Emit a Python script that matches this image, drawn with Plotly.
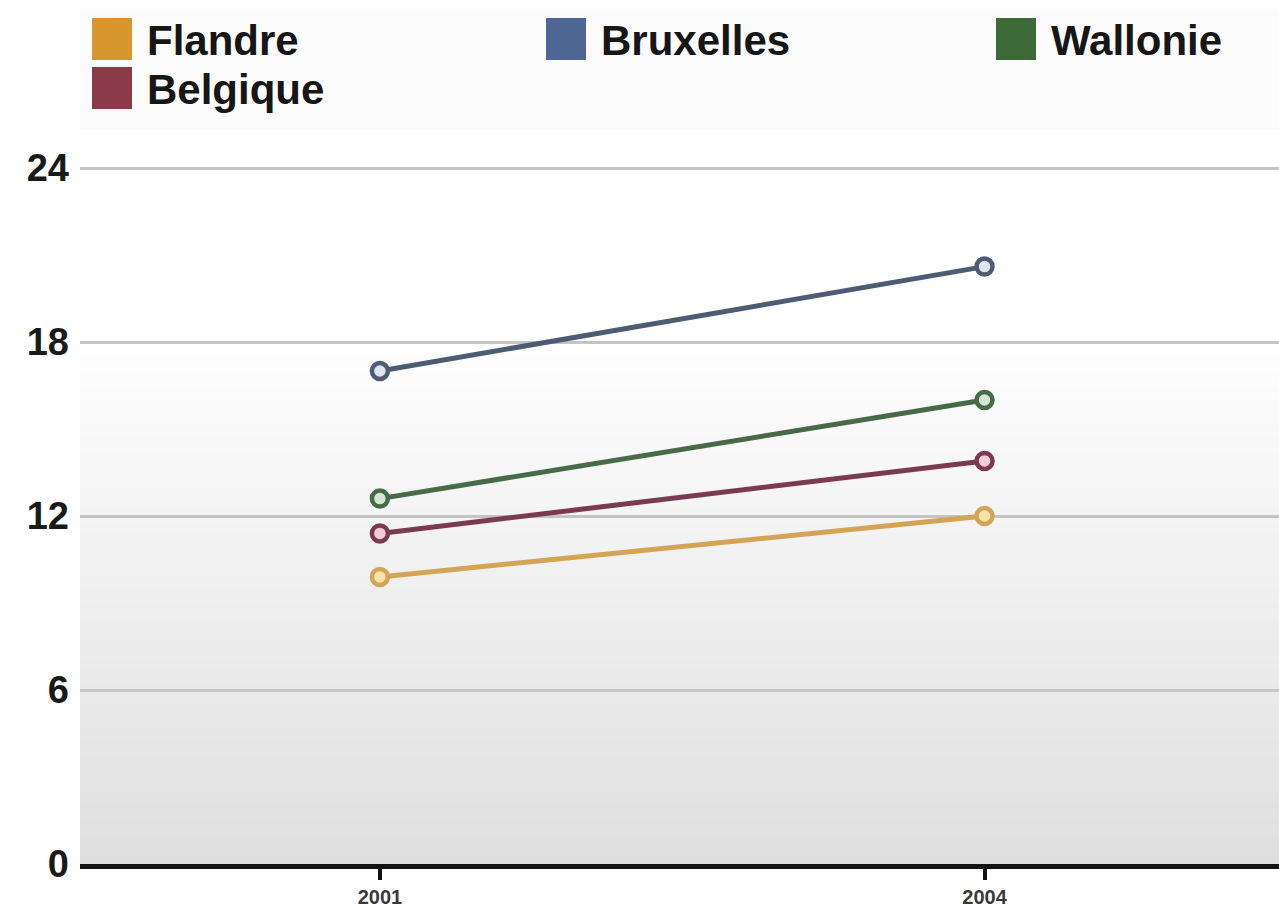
import plotly.graph_objects as go

# ---- data ----
years = ["2001", "2004"]
series_names = ["Flandre", "Bruxelles", "Wallonie", "Belgique"]
flandre = [9.9, 12.0]
bruxelles = [17.0, 20.6]
wallonie = [12.6, 16.0]
belgique = [11.4, 13.9]
y_ticks = [0, 6, 12, 18, 24]

series_values = [flandre, bruxelles, wallonie, belgique]
line_colors = ["#d3a456", "#4d5c72", "#476b47", "#7a3b52"]
fill_colors = ["#f6e2a8", "#dfe5ec", "#d4e6d2", "#f2cdd6"]
swatch_colors = ["#d8962e", "#4d6694", "#3d6b38", "#8a3a48"]

W, H = 1279, 914
ML, MR, MT, MB = 80, 0, 139, 50
PW, PH = W - ML - MR, H - MT - MB


def px_to_paper(x, y):
    """page pixel -> paper coords"""
    return (x - ML) / PW, (H - MB - y) / PH


fig = go.Figure()

for name, vals, lc, fc in zip(series_names, series_values, line_colors, fill_colors):
    fig.add_trace(go.Scatter(
        x=years, y=vals, name=name, mode="lines+markers",
        line=dict(color=lc, width=5),
        marker=dict(symbol="circle", size=16, color=fc,
                    line=dict(color=lc, width=4.5)),
        showlegend=False, hoverinfo="x+y+name",
    ))

shapes = []
# background gradient in plot area
steps = 60
g_top = 0.74
for i in range(steps):
    y0 = g_top * i / steps
    y1 = g_top * (i + 1) / steps
    t = (i + 0.5) / steps
    v = int(round(0xdf + (0xff - 0xdf) * t))
    shapes.append(dict(type="rect", xref="paper", yref="paper", x0=0, x1=1,
                       y0=y0, y1=y1 + 0.002, fillcolor=f"rgb({v},{v},{v})",
                       line=dict(width=0), layer="below"))

# legend band
bx0, by0 = px_to_paper(80, 10)
bx1, by1 = px_to_paper(1279, 130)
shapes.append(dict(type="rect", xref="paper", yref="paper", x0=bx0, x1=bx1,
                   y0=by1, y1=by0, fillcolor="#fbfbfb", line=dict(width=0),
                   layer="below"))

annotations = []
col_x = [92, 546, 996]
row_y = [18, 67]
for idx, (name, sc) in enumerate(zip(series_names, swatch_colors)):
    col = idx % 3
    row = idx // 3
    sx, sy = col_x[col], row_y[row]
    x0, y0 = px_to_paper(sx, sy)
    x1, y1 = px_to_paper(sx + 40, sy + 42)
    shapes.append(dict(type="rect", xref="paper", yref="paper",
                       x0=x0, x1=x1, y0=y1, y1=y0, fillcolor=sc,
                       line=dict(width=0)))
    tx, ty = px_to_paper(sx + 53, sy + 22)
    annotations.append(dict(text=name, xref="paper", yref="paper", x=tx, y=ty,
                            xanchor="left", yanchor="middle", showarrow=False,
                            font=dict(family="Liberation Sans", size=42,
                                      color="#161616", weight="bold")))

fig.update_layout(
    width=W, height=H,
    margin=dict(l=ML, r=MR, t=MT, b=MB),
    paper_bgcolor="white", plot_bgcolor="rgba(0,0,0,0)",
    shapes=shapes, annotations=annotations,
    xaxis=dict(type="category", range=[-0.496, 1.487], showgrid=False,
               showline=True, linecolor="#111111", linewidth=5,
               ticks="outside", ticklen=11, tickwidth=4, tickcolor="#111111",
               tickfont=dict(family="Liberation Sans", size=20, color="#3a3a3a",
                             weight="bold"),
               zeroline=False, fixedrange=True),
    yaxis=dict(range=[0, 25], tickvals=y_ticks, ticktext=[str(v) for v in y_ticks],
               showgrid=True, gridcolor="#c4c4c4", gridwidth=2.5,
               zeroline=False, showline=False, ticks="", ticklabelstandoff=10,
               tickfont=dict(family="Liberation Sans", size=38, color="#1a1a1a",
                             weight="bold"),
               fixedrange=True),
    showlegend=False,
)

fig.write_html(
    "out.html",
    config={"displayModeBar": False},
    post_script="document.body.style.margin='0px';document.body.style.overflow='hidden';",
)
